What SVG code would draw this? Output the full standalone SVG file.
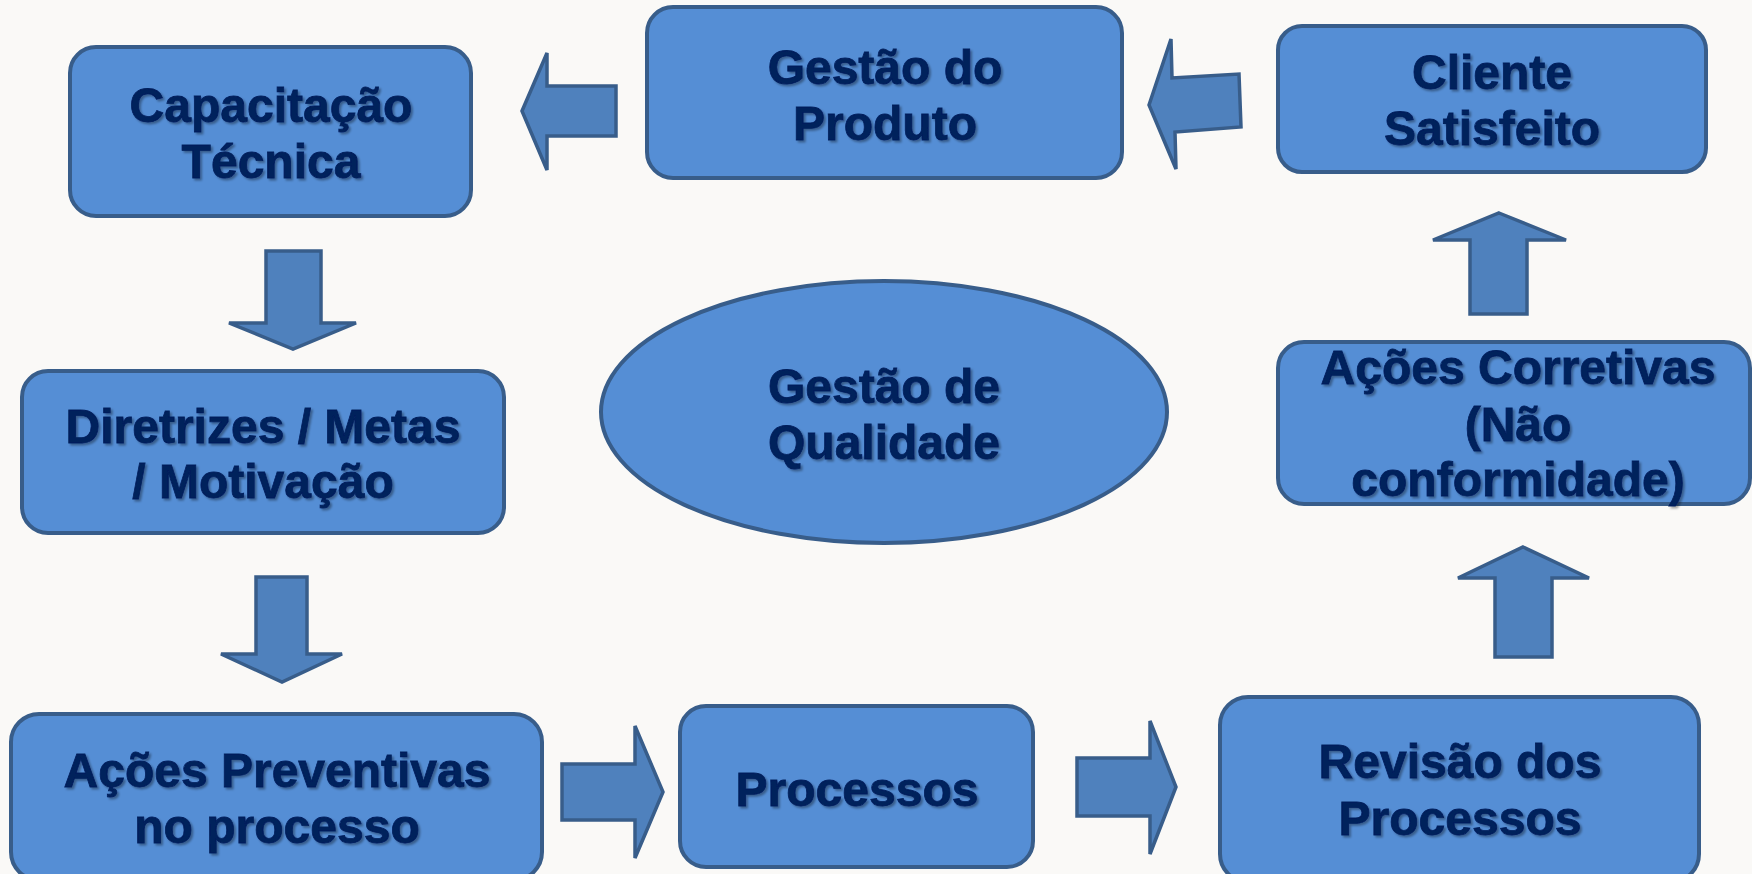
<svg xmlns="http://www.w3.org/2000/svg" width="1752" height="874" viewBox="0 0 1752 874">
<defs>
<filter id="sh" x="-10%" y="-10%" width="120%" height="130%">
<feDropShadow dx="2" dy="2" stdDeviation="1.2" flood-color="#000" flood-opacity="0.35"/>
</filter>
</defs>
<style>
.box{fill:#558ed5;stroke:#385d8a;stroke-width:4}
.arr{fill:#4f81bd;stroke:#385d8a;stroke-width:3.5;stroke-linejoin:miter}
.t{font-family:"Liberation Sans",Arial,sans-serif;font-weight:bold;font-size:48px;fill:#06205c;stroke:#06205c;stroke-width:0.8;text-anchor:middle;filter:url(#sh)}
</style>
<rect width="1752" height="874" fill="#faf9f7"/>
<g id="connectors">
<polygon class="arr" points="522,111 547,53 547,86 616,86 616,136 547,136 547,170"/>
<polygon class="arr" points="1149,105 1171,39 1172,78 1239,74 1241,127 1175,132 1176,169"/>
<polygon class="arr" points="266,251 321,251 321,323 356,323 293,349 229,323 266,323"/>
<polygon class="arr" points="256,577 307,577 307,654 342,654 282,682 221,654 256,654"/>
<polygon class="arr" points="562,764 635,764 635,726 663,792 635,858 635,820 562,820"/>
<polygon class="arr" points="1077,758 1150,758 1150,721 1176,787 1150,854 1150,816 1077,816"/>
<polygon class="arr" points="1523,547 1589,578 1552,578 1552,657 1495,657 1495,578 1458,578"/>
<polygon class="arr" points="1499,213 1566,240 1527,240 1527,314 1470,314 1470,240 1433,240"/>
</g>
<g id="capacitacao">
<rect class="box" x="70" y="47" width="401" height="169" rx="26"/>
<text class="t" x="271" y="122">Capacitação</text>
<text class="t" x="271" y="178">Técnica</text>
</g>
<g id="gestao-produto">
<rect class="box" x="647" y="7" width="475" height="171" rx="26"/>
<text class="t" x="885" y="84">Gestão do</text>
<text class="t" x="885" y="140">Produto</text>
</g>
<g id="cliente">
<rect class="box" x="1278" y="26" width="428" height="146" rx="24"/>
<text class="t" x="1492" y="89">Cliente</text>
<text class="t" x="1492" y="145">Satisfeito</text>
</g>
<g id="diretrizes">
<rect class="box" x="22" y="371" width="482" height="162" rx="26"/>
<text class="t" x="263" y="443">Diretrizes / Metas</text>
<text class="t" x="263" y="498">/ Motivação</text>
</g>
<g id="gestao-qualidade">
<ellipse class="box" cx="884" cy="412" rx="283" ry="131"/>
<text class="t" x="884" y="403">Gestão de</text>
<text class="t" x="884" y="459">Qualidade</text>
</g>
<g id="acoes-corretivas">
<rect class="box" x="1278" y="342" width="472" height="162" rx="26"/>
<text class="t" x="1518" y="384">Ações Corretivas</text>
<text class="t" x="1518" y="441">(Não</text>
<text class="t" x="1518" y="496">conformidade)</text>
</g>
<g id="acoes-preventivas">
<rect class="box" x="11" y="714" width="531" height="166" rx="28"/>
<text class="t" x="277" y="787">Ações Preventivas</text>
<text class="t" x="277" y="843">no processo</text>
</g>
<g id="processos">
<rect class="box" x="680" y="706" width="353" height="161" rx="26"/>
<text class="t" x="857" y="806">Processos</text>
</g>
<g id="revisao">
<rect class="box" x="1220" y="697" width="479" height="185" rx="28"/>
<text class="t" x="1460" y="778">Revisão dos</text>
<text class="t" x="1460" y="835">Processos</text>
</g>
</svg>
